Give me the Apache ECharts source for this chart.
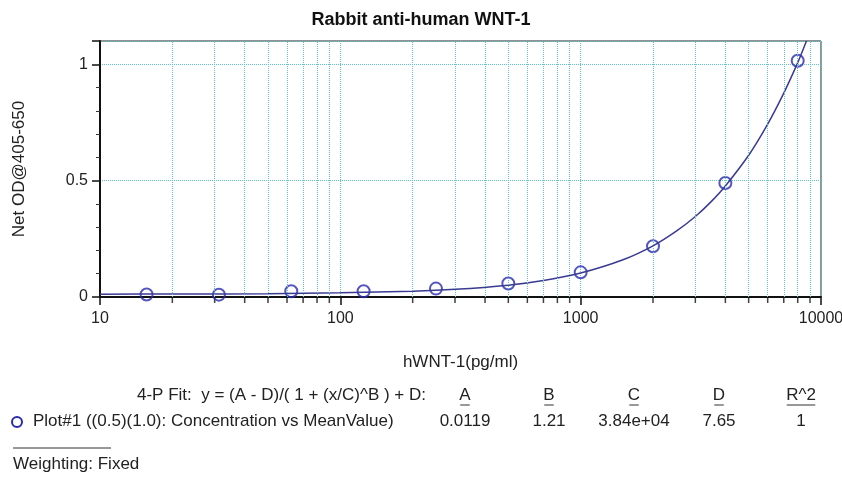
<!DOCTYPE html>
<html><head><meta charset="utf-8">
<script src="https://cdn.jsdelivr.net/npm/echarts@6/dist/echarts.min.js"></script>
<style>html,body{margin:0;padding:0;background:#fff}#c{width:842px;height:477px}</style>
</head><body><div id="c"></div>
<script>
var concentration = [15.625, 31.25, 62.5, 125, 250, 500, 1000, 2000, 4000, 8000];
var meanValue = [0.011, 0.010, 0.025, 0.025, 0.036, 0.058, 0.106, 0.218, 0.490, 1.015];
var fitX = [10, 20, 50, 100, 200, 300, 500, 700, 1000, 1500, 2000, 2500, 3000, 3500, 4000, 5000, 6000, 7000, 8000, 8700];
var fitY = [0.012, 0.013, 0.014, 0.018, 0.025, 0.033, 0.051, 0.071, 0.103, 0.160, 0.220, 0.283, 0.346, 0.411, 0.477, 0.609, 0.743, 0.876, 1.007, 1.100];
var majorTicks = [10, 100, 1000, 10000];
var minorTicks = [20, 30, 40, 50, 60, 70, 80, 90, 200, 300, 400, 500, 600, 700, 800, 900, 2000, 3000, 4000, 5000, 6000, 7000, 8000, 9000];
var yTicks = [0, 0.5, 1];
var fitHeaders = ['A', 'B', 'C', 'D', 'R^2'];
var fitValues = ['0.0119', '1.21', '3.84e+04', '7.65', '1'];

var FONT = 'Liberation Sans, Arial, sans-serif';
var GRIDC = '#5fc3cf';
var TXT = '#222';
var chart = echarts.init(document.getElementById('c'));

var colX = [465, 549, 634, 719, 801];
var graphics = [];
graphics.push({type:'text', left:137, top:387, style:{text:'4-P Fit:  y = (A - D)/( 1 + (x/C)^B ) + D:', font:'17px ' + FONT, fill:TXT}});
fitHeaders.forEach(function(h, i){
  graphics.push({type:'text', x:colX[i], y:387, style:{text:h, font:'17px ' + FONT, fill:TXT, align:'center', verticalAlign:'top'}});
  var w = h.length * 9.5;
  graphics.push({type:'line', shape:{x1:colX[i]-w/2, y1:405, x2:colX[i]+w/2, y2:405}, style:{stroke:'#333', lineWidth:1}});
});
fitValues.forEach(function(v, i){
  graphics.push({type:'text', x:colX[i], y:413, style:{text:v, font:'17px ' + FONT, fill:TXT, align:'center', verticalAlign:'top'}});
});
graphics.push({type:'circle', shape:{cx:17, cy:422, r:5}, style:{fill:'none', stroke:'#2a2ab0', lineWidth:2}});
graphics.push({type:'text', left:33, top:413, style:{text:'Plot#1 ((0.5)(1.0): Concentration vs MeanValue)', font:'17px ' + FONT, fill:TXT}});
graphics.push({type:'line', shape:{x1:13, y1:448, x2:111, y2:448}, style:{stroke:'#333', lineWidth:1}});
graphics.push({type:'text', left:13, top:456, style:{text:'Weighting: Fixed', font:'17px ' + FONT, fill:TXT}});

chart.setOption({
  animation:false,
  backgroundColor:'#fff',
  textStyle:{fontFamily:FONT},
  title:{text:'Rabbit anti-human WNT-1', left:'center', top:6,
    textStyle:{fontSize:18, fontWeight:'bold', color:'#111', fontFamily:FONT}},
  grid:{left:100, right:21, top:41, bottom:180, show:true, borderColor:'#222', borderWidth:1,
    containLabel:false, outerBoundsMode:'none'},
  xAxis:{type:'log', logBase:10, min:10, max:10000,
    name:'hWNT-1(pg/ml)', nameLocation:'middle', nameGap:57,
    nameTextStyle:{fontSize:17, color:TXT},
    axisLine:{lineStyle:{color:'#111', width:2}},
    axisTick:{show:true, length:8, lineStyle:{color:'#111', width:1.5}},
    axisLabel:{fontSize:16, color:TXT, margin:14,
      formatter:function(v){ return String(Math.round(v)); }},
    splitLine:{show:true, lineStyle:{color:GRIDC, type:'dotted', width:1}},
    minorTick:{show:false}},
  yAxis:{type:'value', min:0, max:1.1, interval:0.5,
    name:'Net OD@405-650', nameLocation:'middle', nameGap:72,
    nameTextStyle:{fontSize:17, color:TXT},
    axisLine:{show:true, lineStyle:{color:'#111', width:2}},
    axisTick:{show:true, length:8, lineStyle:{color:'#111', width:1.5}},
    minorTick:{show:true, splitNumber:5, length:4, lineStyle:{color:'#333', width:1}},
    axisLabel:{fontSize:16, color:TXT, margin:12, showMaxLabel:false,
      formatter:function(v){ return yTicks.indexOf(v) >= 0 ? String(v) : ''; }},
    splitLine:{show:true, lineStyle:{color:GRIDC, type:'dotted', width:1}}},
  graphic:graphics,
  series:[
    {type:'line', name:'grid', data:[], silent:true,
     markLine:{silent:true, symbol:'none', label:{show:false},
       lineStyle:{color:GRIDC, type:'dotted', width:1},
       data:minorTicks.map(function(t){ return {xAxis:t}; })}},
    {type:'scatter', name:'ticks', silent:true, clip:false,
     symbol:'rect', symbolSize:[1.5, 5], symbolOffset:[0, 3.5],
     itemStyle:{color:'#111'},
     data:minorTicks.map(function(t){ return [t, 0]; })},
    {type:'line', name:'fit', smooth:0.3, showSymbol:false, clip:true,
     lineStyle:{color:'#3a3a92', width:1.5},
     data:fitX.map(function(x, i){ return [x, fitY[i]]; })},
    {type:'scatter', name:'Plot#1', symbol:'circle', symbolSize:12,
     itemStyle:{color:'rgba(0,0,0,0)', borderColor:'#2a2ab0', borderWidth:2},
     data:concentration.map(function(x, i){ return [x, meanValue[i]]; })}
  ]
});
</script></body></html>
